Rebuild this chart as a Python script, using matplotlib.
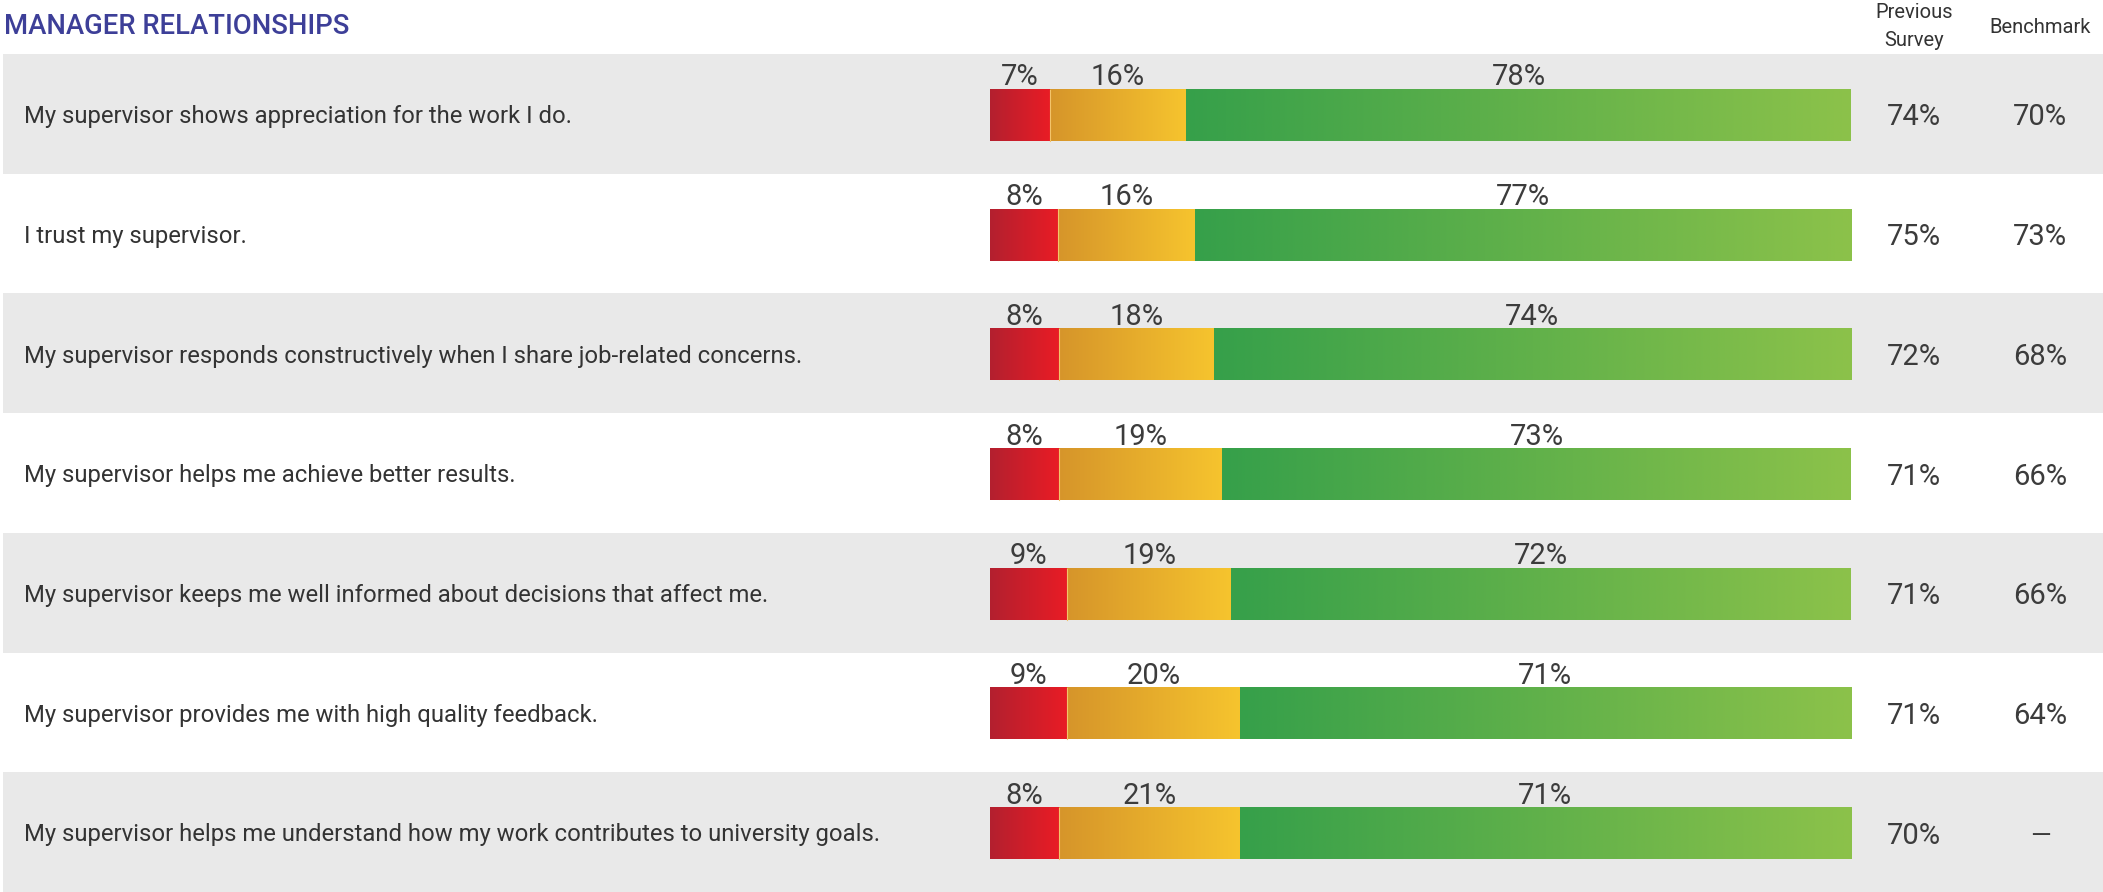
import matplotlib
matplotlib.use("Agg")
import matplotlib.pyplot as plt
import numpy as np
from matplotlib.colors import LinearSegmentedColormap

plt.rcParams['font.family'] = ['Roboto', 'DejaVu Sans']

# --- data ---
questions = [
    "My supervisor shows appreciation for the work I do.",
    "I trust my supervisor.",
    "My supervisor responds constructively when I share job-related concerns.",
    "My supervisor helps me achieve better results.",
    "My supervisor keeps me well informed about decisions that affect me.",
    "My supervisor provides me with high quality feedback.",
    "My supervisor helps me understand how my work contributes to university goals.",
]
unfavorable = [7, 8, 8, 8, 9, 9, 8]
neutral = [16, 16, 18, 19, 19, 20, 21]
favorable = [78, 77, 74, 73, 72, 71, 71]
previous_survey = [74, 75, 72, 71, 71, 71, 70]
benchmark = [70, 73, 68, 66, 66, 64, None]

# --- look ---
W, H = 2103, 892
TEXT = '#333333'
NUM = '#3c3c3c'
BAND = '#e9e9e9'
TITLE_C = '#3d3f98'
seg_cmaps = [
    LinearSegmentedColormap.from_list('red', ['#b3202f', '#e91c25']),
    LinearSegmentedColormap.from_list('org', ['#d6952a', '#f6c42e']),
    LinearSegmentedColormap.from_list('grn', ['#36a04a', '#8cc24a']),
]

n = len(questions)
top_px, pitch = 54, (H - 54) / n
ylim = (n - 0.5, -0.5 - top_px / pitch)

fig = plt.figure(figsize=(W / 100, H / 100), dpi=100)
bg = fig.add_axes([0, 0, 1, 1])
bg.set_xlim(0, W)
bg.set_ylim(*ylim)
bg.axis('off')

# alternating row bands
for i in range(0, n, 2):
    bg.fill_between([3, W], i - 0.5, i + 0.5, color=BAND, lw=0, zorder=0)

for i, q in enumerate(questions):
    bg.text(24, i + 0.078, q, fontsize=17.2, color=TEXT, va='baseline', ha='left')
    bg.text(1914, i + 0.097, f"{previous_survey[i]}%", fontsize=21, color=NUM,
            va='baseline', ha='center')
    b = benchmark[i]
    if b is not None:
        bg.text(2040, i + 0.097, f"{b}%", fontsize=21, color=NUM,
                va='baseline', ha='center')
    else:
        bg.text(2040, i + 0.088, "\u2014", fontsize=19, color=NUM,
                va='baseline', ha='center')

fig.text(4.5 / W, 1 - 34.3 / H, "MANAGER RELATIONSHIPS", fontsize=19.8,
         color=TITLE_C, fontweight='medium', va='baseline', ha='left')
fig.text(1914 / W, 1 - 18.3 / H, "Previous", fontsize=14.5, color=TEXT,
         va='baseline', ha='center')
fig.text(1914 / W, 1 - 46 / H, "Survey", fontsize=14.5, color=TEXT,
         va='baseline', ha='center')
fig.text(2040 / W, 1 - 33.3 / H, "Benchmark", fontsize=14.5, color=TEXT,
         va='baseline', ha='center')

# stacked gradient bars
ax = fig.add_axes([990 / W, 0, 861 / W, 1])
ax.set_xlim(0, 1)
ax.set_ylim(*ylim)
ax.axis('off')

grad = np.linspace(0, 1, 256).reshape(1, -1)
bar_h = 0.427
for i in range(n):
    vals = [unfavorable[i], neutral[i], favorable[i]]
    total = sum(vals)
    yc = i + 0.012
    left = 0.0
    for k, v in enumerate(vals):
        w = v / total
        ax.imshow(grad, cmap=seg_cmaps[k], aspect='auto', interpolation='bicubic',
                  extent=(left, left + w, yc + bar_h / 2, yc - bar_h / 2), zorder=2)
        ax.text(left + w / 2, i - 0.237, f"{v}%", fontsize=21, color=NUM,
                ha='center', va='baseline')
        left += w
    # thin light seam between red and orange
    x_seam = unfavorable[i] / total
    ax.plot([x_seam, x_seam], [yc - bar_h / 2, yc + bar_h / 2], color='#f3c46a',
            lw=0.8, zorder=3)

ax.set_xlim(0, 1)
ax.set_ylim(*ylim)

fig.savefig('out.png', dpi=100, facecolor='white')
